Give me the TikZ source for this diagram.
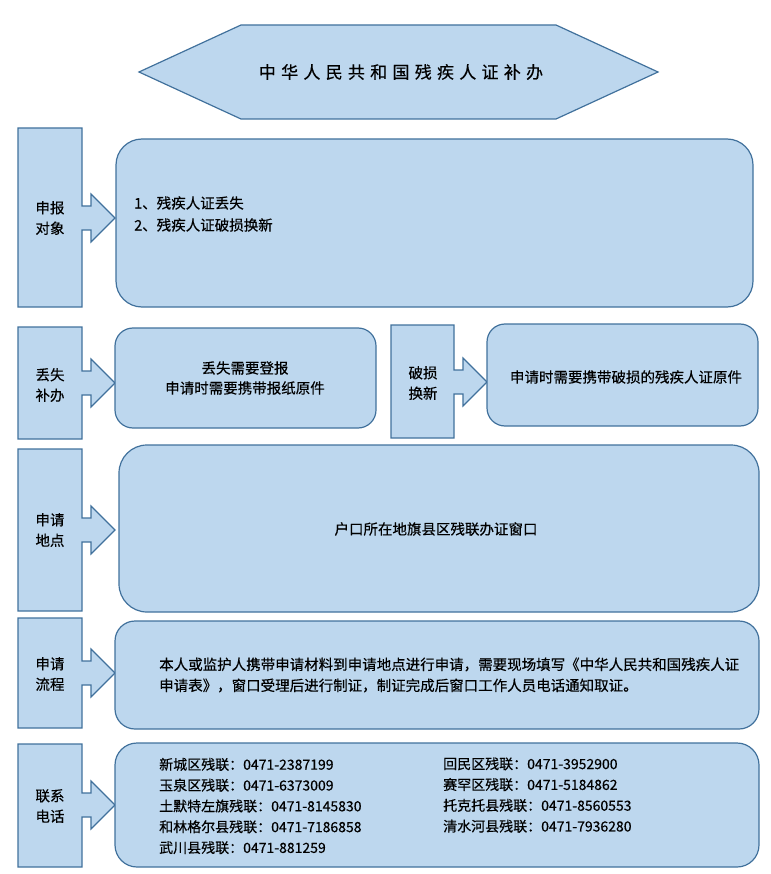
\documentclass[tikz,border=0pt]{standalone}
\usepackage{fontspec}
\setmainfont[FakeBold=0.4]{Noto Sans CJK SC}
\newfontfamily\titlefont[LetterSpace=31,FakeBold=0.4]{Noto Sans CJK SC}
\definecolor{boxfill}{HTML}{BDD7EE}
\definecolor{boxline}{HTML}{41719C}
\tikzset{
  panel/.style={fill=boxfill, draw=boxline, line width=1.2pt},
  body/.style={font=\fontsize{14.5}{21}\selectfont, align=left, inner sep=0pt},
  tag/.style={font=\fontsize{14.5}{20.5}\selectfont, align=center, inner sep=0pt}
}
\begin{document}
\begin{tikzpicture}[x=1pt,y=-1pt]
\useasboundingbox (0,0) rectangle (770,874);

% 标题
\draw[panel] (139,72) -- (241,25) -- (556,25) -- (658,72) -- (556,119) -- (241,119) -- cycle;
\node[font=\titlefont\fontsize{17}{20}\selectfont] (title) at (401,72) {中华人民共和国残疾人证补办};

% 左侧箭头框
\foreach \xl/\xr/\yt/\yb/\ym in {
18/82/128/307/218, 18/82/327/439/383, 391/454/325/438/382,
18/82/449/611/530, 18/82/618/728/673, 18/82/744/867/805
}
{
\draw[panel] (\xl,\yt) -- (\xr,\yt) -- (\xr,\ym-12) -- (\xr+9,\ym-12) -- (\xr+9,\ym-24)
  -- (\xr+33,\ym) -- (\xr+9,\ym+24) -- (\xr+9,\ym+12) -- (\xr,\ym+12) -- (\xr,\yb) -- (\xl,\yb) -- cycle;
}

% 圆角框
\draw[panel, rounded corners=26] (116,139) rectangle (753,307);
\draw[panel, rounded corners=18] (115,328) rectangle (376,428);
\draw[panel, rounded corners=18] (487,324) rectangle (758,426);
\draw[panel, rounded corners=28] (119,445) rectangle (759,612);
\draw[panel, rounded corners=20] (115,621) rectangle (759,729);
\draw[panel, rounded corners=22] (115,743) rectangle (759,867);

% 左侧文字
\node[tag] (sbdx) at (50,218) {申报\\对象};
\node[tag] (dsbb) at (50,385) {丢失\\补办};
\node[tag] (pshx) at (423,383) {破损\\换新};
\node[tag] (sqdd) at (50,530) {申请\\地点};
\node[tag] (sqlc) at (50,674) {申请\\流程};
\node[tag] (lxdh) at (50,806) {联系\\电话};

% 框内文字
\node[body, anchor=west, font=\fontsize{14.5}{22}\selectfont] (duixiang) at (134,214)
  {1、残疾人证丢失\\2、残疾人证破损换新};
\node[body, align=center, font=\fontsize{14.5}{20}\selectfont] (diushi) at (245,378)
  {丢失需要登报\\申请时需要携带报纸原件};
\node[body] (posun) at (626,377) {申请时需要携带破损的残疾人证原件};
\node[body] (didian) at (436,529) {户口所在地旗县区残联办证窗口};
\node[body, anchor=west] (liucheng) at (159,675)
  {本人或监护人携带申请材料到申请地点进行申请，需要现场填写《中华人民共和国残疾人证\\
   申请表》，窗口受理后进行制证，制证完成后窗口工作人员电话通知取证。};

% 电话
\node[body, anchor=west, font=\fontsize{14}{20.8}\selectfont] (dianhua1) at (159,806)
  {新城区残联：0471-2387199\\玉泉区残联：0471-6373009\\土默特左旗残联：0471-8145830\\
   和林格尔县残联：0471-7186858\\武川县残联：0471-881259};
\node[body, anchor=west, font=\fontsize{14}{20.8}\selectfont] (dianhua2) at (443,795)
  {回民区残联：0471-3952900\\赛罕区残联：0471-5184862\\托克托县残联：0471-8560553\\
   清水河县残联：0471-7936280};

\end{tikzpicture}
\end{document}
